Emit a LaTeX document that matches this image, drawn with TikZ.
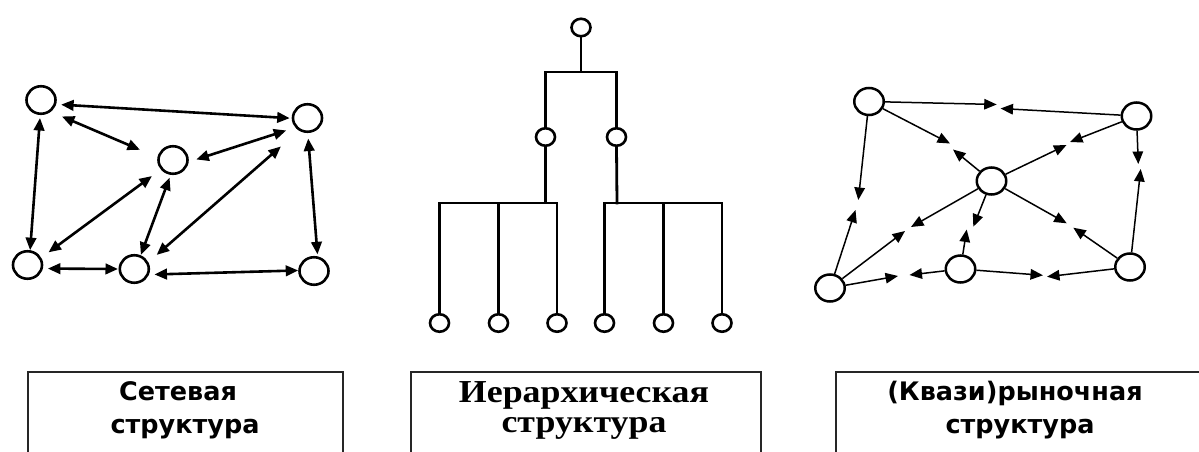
\documentclass[tikz,border=0pt]{standalone}
\usepackage{fontspec}
\usetikzlibrary{arrows.meta,shapes.geometric}
\newfontfamily\labsans{DejaVu Sans}
\newfontfamily\labserif[FakeStretch=1.12]{Liberation Serif}
\begin{document}
\begin{tikzpicture}[x=1pt,y=-1pt,
  peer/.style={ellipse,draw,line width=2.6pt,minimum width=29pt,minimum height=27.5pt,inner sep=0pt},
  rank/.style={ellipse,draw,line width=2.6pt,minimum width=19pt,minimum height=17.5pt,inner sep=0pt},
  agent/.style={ellipse,draw,line width=2.5pt,minimum width=29.5pt,minimum height=27pt,inner sep=0pt},
  link/.style={line width=2.6pt,{Triangle[length=12.5pt,width=10.5pt]}-{Triangle[length=12.5pt,width=10.5pt]}},
  tree/.style={line width=2.8pt,line cap=rect,line join=miter},
  half/.style={line width=1.5pt,-{Triangle[length=12.5pt,width=10.5pt]}},
  frame/.style={line width=1.7pt,draw=black!85},
  sanslab/.style={anchor=base,inner sep=0pt,font=\labsans\bfseries\fontsize{25.5}{28}\selectfont},
  seriflab/.style={anchor=north,align=center,inner sep=0pt,font=\labserif\bfseries\fontsize{32}{29.5}\selectfont}]
\useasboundingbox (0,0) rectangle (1199,452);

% ---------- network structure ----------
\node[peer] (A) at (41,100) {};
\node[peer] (B) at (307.5,118) {};
\node[peer] (C) at (173,160) {};
\node[peer] (D) at (27.5,265) {};
\node[peer] (E) at (134.3,269) {};
\node[peer] (F) at (314,271) {};

\draw[link,shorten <=5pt,shorten >=2pt] (A.-16) -- (B.181);
\draw[link,shorten <=12pt,shorten >=19pt] (A.-50) -- (C.170);
\draw[link,shorten <=3pt,shorten >=0pt] (A.-93) -- (D.80);
\draw[link,shorten <=8pt,shorten >=9.5pt] (C.-7) -- (B.218);
\draw[link,shorten <=9pt,shorten >=11pt] (D.28) -- (C.218);
\draw[link,shorten <=0.5pt,shorten >=3pt] (E.65) -- (C.261);
\draw[link,shorten <=11pt,shorten >=24pt] (E.26) -- (B.236);
\draw[link,shorten <=5.5pt,shorten >=2pt] (B.-89) -- (F.76);
\draw[link,shorten <=5pt,shorten >=0.5pt] (D.-13) -- (E.180);
\draw[link,shorten <=5.5pt,shorten >=0pt] (E.-21) -- (F.178);

% ---------- hierarchical structure ----------
\node[rank] (h0) at (581,27.5) {};
\node[rank] (h1) at (545.5,137) {};
\node[rank] (h2) at (616.5,137) {};
\node[rank] (l1) at (439.5,323) {};
\node[rank] (l2) at (498.5,323) {};
\node[rank] (l3) at (557,323) {};
\node[rank] (l4) at (604.5,323) {};
\node[rank] (l5) at (663.5,323) {};
\node[rank] (l6) at (722,323) {};
\coordinate (j0) at (581,72);
\coordinate (j1) at (545.5,203);
\coordinate (j2) at (617,203);

\draw[tree] (h0.south) -- (j0);
\draw[tree] (h1.north) |- (j0) -| (h2.north);
\draw[tree] (h1.south) -- (j1);
\draw[tree] (h2.south) -- (j2);
\draw[tree] (l1.north) |- (j1) -| (l3.north);
\draw[tree] (l2.north) -- (l2.north |- j1);
\draw[tree] (l4.north) |- (j2) -| (l6.north);
\draw[tree] (l5.north) -- (l5.north |- j2);

% ---------- (quasi)market structure ----------
\node[agent] (P) at (869,101.5) {};
\node[agent] (Q) at (1136.5,116) {};
\node[agent] (M) at (991.5,181) {};
\node[agent] (R) at (830,288) {};
\node[agent] (S) at (960.5,269) {};
\node[agent] (T) at (1130,267) {};

\coordinate (pq1) at (996.7,104.5);  \coordinate (pq2) at (1000.5,108.5);
\coordinate (pm1) at (950,143.5);    \coordinate (pm2) at (953,149.5);
\coordinate (pr1) at (858.3,200);    \coordinate (pr2) at (855.5,210);
\coordinate (qm1) at (1070,142);     \coordinate (qm2) at (1066.5,145);
\coordinate (qt1) at (1138.3,164);   \coordinate (qt2) at (1140.7,169);
\coordinate (mr1) at (911,227);      \coordinate (mr2) at (905,231);
\coordinate (ms1) at (973.3,226.7);  \coordinate (ms2) at (966.7,229.5);
\coordinate (mt1) at (1066.7,223.3); \coordinate (mt2) at (1073.3,227.7);
\coordinate (rs1) at (898,276);      \coordinate (rs2) at (909.5,275);
\coordinate (st1) at (1043,275.3);   \coordinate (st2) at (1047,276.7);

\draw[half] (P) -- (pq1); \draw[half] (Q) -- (pq2);
\draw[half] (P) -- (pm1); \draw[half] (M) -- (pm2);
\draw[half] (P) -- (pr1); \draw[half] (R) -- (pr2);
\draw[half] (Q) -- (qm1); \draw[half] (M) -- (qm2);
\draw[half] (Q) -- (qt1); \draw[half] (T) -- (qt2);
\draw[half] (M) -- (mr1); \draw[half] (R) -- (mr2);
\draw[half] (M) -- (ms1); \draw[half] (S) -- (ms2);
\draw[half] (M) -- (mt1); \draw[half] (T) -- (mt2);
\draw[half] (R) -- (rs1); \draw[half] (S) -- (rs2);
\draw[half] (S) -- (st1); \draw[half] (T) -- (st2);

% ---------- caption frames ----------
\draw[frame] (28,452) -- (28,372) -- (343,372) -- (343,452);
\draw[frame] (411,452) -- (411,372) -- (761,372) -- (761,452);
\draw[frame] (836,452) -- (836,372) -- (1199,372);

\node[sanslab] (netA) at (178,400) {Сетевая};
\node[sanslab] (netB) at (185,433) {структура};
\node[seriflab] (hie) at (584,381.5) {Иерархическая\\структура};
\node[sanslab] (mktA) at (1015,400) {(Квази)рыночная};
\node[sanslab] (mktB) at (1020,433) {структура};
\end{tikzpicture}
\end{document}
